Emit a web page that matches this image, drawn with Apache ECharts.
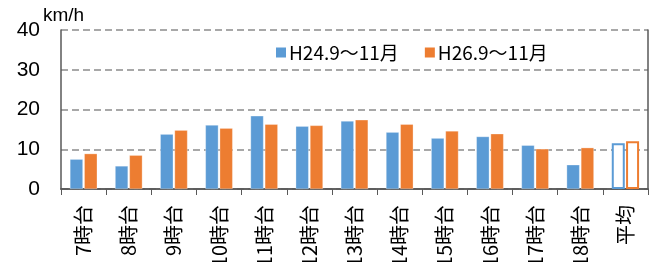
<!DOCTYPE html>
<html><head><meta charset="utf-8">
<script src="https://cdn.jsdelivr.net/npm/echarts@6/dist/echarts.min.js"></script>
<style>html,body{margin:0;padding:0;background:#fff}#c{width:651px;height:262px}</style>
</head><body><div id="c"></div>
<script>
const categories = ['7時台','8時台','9時台','10時台','11時台','12時台','13時台','14時台','15時台','16時台','17時台','18時台','平均'];
const seriesNames = ['H24.9～11月','H26.9～11月'];
const valuesH24 = [7.5,5.8,13.8,16.1,18.4,15.8,17.1,14.3,12.8,13.2,11.0,6.1,11.5];
const valuesH26 = [8.9,8.5,14.8,15.3,16.3,16.0,17.4,16.3,14.6,13.9,10.1,10.4,12.0];
const yTicks = [0,10,20,30,40];
const unitLabel = 'km/h';

const BLUE = '#5B9BD5', ORANGE = '#ED7D31';
function mk(vals, color){
  return vals.map((v,i)=> i === vals.length-1
    ? {value:v, itemStyle:{color:'#fff', borderColor:color, borderWidth:2}}
    : {value:v, itemStyle:{color:color, borderColor:'rgba(255,255,255,0.6)', borderWidth:0.5}});
}
const chart = echarts.init(document.getElementById('c'), null, {renderer:'canvas'});
chart.setOption({
  animation:false,
  textStyle:{fontFamily:'"Noto Sans CJK JP", "Liberation Sans", sans-serif'},
  grid:{left:61, right:3, top:30, bottom:73, containLabel:false, outerBoundsMode:'none'},
  legend:{left:271, top:38, itemWidth:10, itemHeight:10, itemGap:26,
    icon:'rect', textStyle:{fontSize:19, color:'#000', padding:[0,0,0,-2]},
    data:seriesNames},
  graphic:[{type:'text', left:43, top:6, style:{text:unitLabel, fontSize:19, fill:'#000', fontFamily:'"Liberation Sans", sans-serif'}}],
  xAxis:[{type:'category', data:categories,
    axisLine:{lineStyle:{color:'#595959', width:1.5}},
    axisTick:{show:true, length:6, lineStyle:{color:'#595959'}},
    axisLabel:{rotate:90, fontSize:20, color:'#000', margin:16, interval:0, hideOverlap:false},
  },{type:'category', position:'top', data:categories,
    axisLine:{show:true, lineStyle:{color:'#595959', width:1.5}},
    axisTick:{show:false}, axisLabel:{show:false}}],
  yAxis:[{type:'value', min:yTicks[0], max:yTicks[yTicks.length-1], interval:10,
    axisLine:{show:true, lineStyle:{color:'#595959', width:1.5}},
    axisTick:{show:false},
    axisLabel:{fontSize:21, color:'#000', margin:21, fontFamily:'"Liberation Sans", sans-serif'},
    splitLine:{lineStyle:{color:'#8c8c8c', type:[7,4], width:1.5}}
  },{type:'value', position:'right', min:0, max:40, interval:10,
    axisLine:{show:true, lineStyle:{color:'#595959', width:1.5}},
    axisTick:{show:false}, axisLabel:{show:false}, splitLine:{show:false}}],
  series:[
    {name:seriesNames[0], type:'bar', data:mk(valuesH24, BLUE), itemStyle:{color:BLUE}, barWidth:13, barGap:'10%'},
    {name:seriesNames[1], type:'bar', data:mk(valuesH26, ORANGE), itemStyle:{color:ORANGE}, barWidth:13, barGap:'10%'}
  ]
});
</script></body></html>
